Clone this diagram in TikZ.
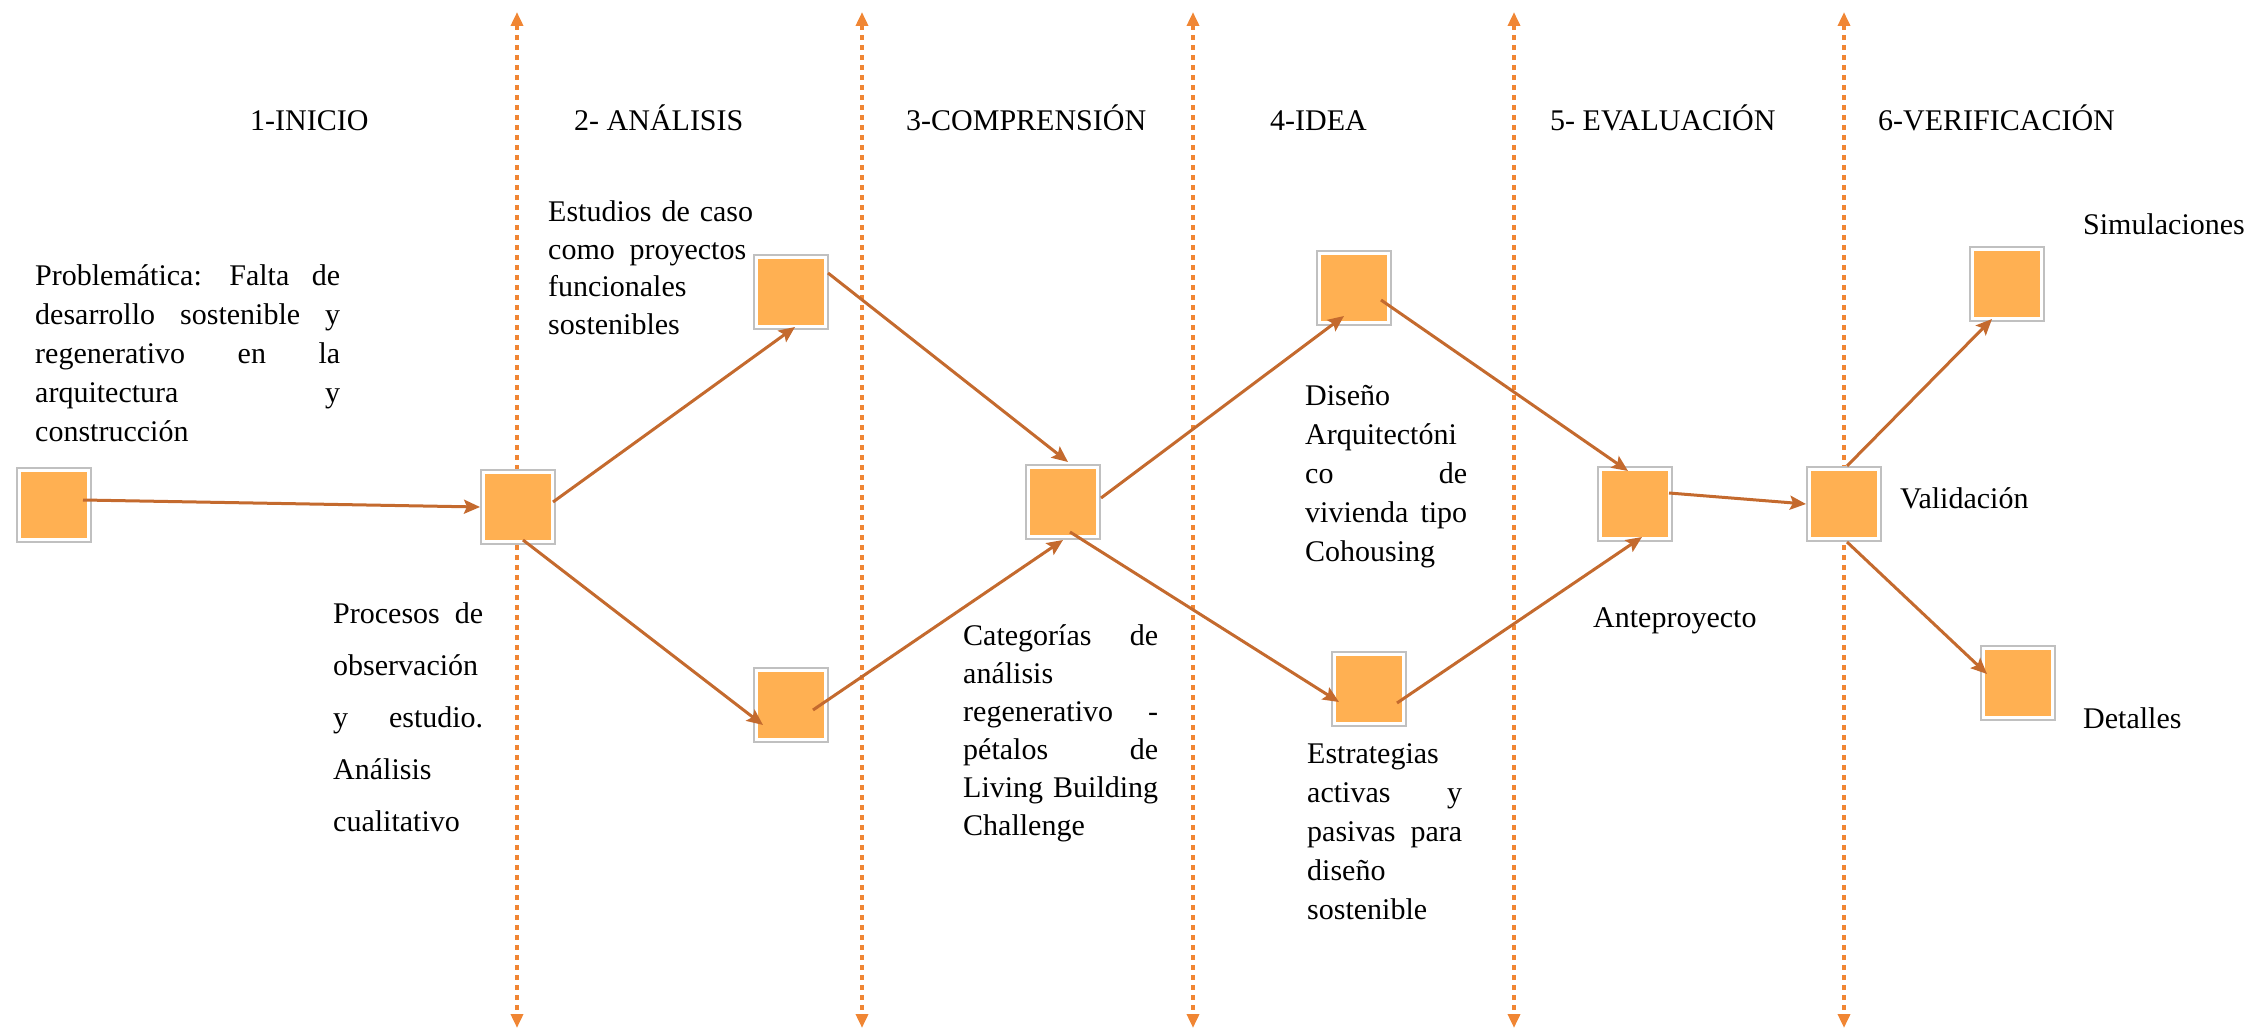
\documentclass[tikz,border=0pt]{standalone}
\usepackage{fontspec}
\setmainfont{Liberation Serif}
\usetikzlibrary{arrows.meta,calc}
\definecolor{boxfill}{RGB}{255,176,82}
\definecolor{framegray}{RGB}{192,192,192}
\definecolor{flowline}{RGB}{196,106,46}
\definecolor{sepline}{RGB}{240,134,52}
% a justified line of a fixed width (words spread by \hfill)
\newcommand\jrow[2]{\leavevmode\hbox to #1{#2}}

\begin{document}
\begin{tikzpicture}[x=1pt,y=-1pt,
  stepbox/.style={minimum width=74pt, minimum height=74pt, inner sep=0pt,
    draw=framegray, line width=2pt, fill=white,
    path picture={\fill[boxfill]
      ($(path picture bounding box.south west)+(4pt,4pt)$) rectangle
      ($(path picture bounding box.north east)+(-4pt,-4pt)$);}},
  flow/.style={draw=flowline, line width=3pt,
    -{Stealth[length=16pt,width=14pt,inset=3pt]}},
  sep/.style={draw=sepline, line width=4.5pt, dash pattern=on 4.5pt off 5.5pt,
    {Triangle[length=14pt,width=12pt]}-{Triangle[length=14pt,width=12pt]}},
  txt/.style={anchor=base west, inner sep=0pt, align=left,
    font=\fontsize{30}{37.5}\selectfont},
  head/.style={anchor=base west, inner sep=0pt,
    font=\fontsize{30}{36}\selectfont}]
\useasboundingbox (0,0) rectangle (2259,1032);

% phase separators
\foreach \i/\x in {1/517,2/862,3/1193,4/1514,5/1844}{
  \coordinate (s\i t) at (\x,12);
  \coordinate (s\i b) at (\x,1028);
  \draw[sep] (s\i t) -- (s\i b);
}

% phase titles
\node[head] (h1) at (250,131) {1-INICIO};
\node[head] (h2) at (574,131) {2- ANÁLISIS};
\node[head] (h3) at (906,131) {3-COMPRENSIÓN};
\node[head] (h4) at (1270,131) {4-IDEA};
\node[head] (h5) at (1550,131) {5- EVALUACIÓN};
\node[head] (h6) at (1878,131) {6-VERIFICACIÓN};

% steps
\node[stepbox] (A) at (54,505) {};
\node[stepbox] (B) at (518,507) {};
\node[stepbox] (C) at (791,292) {};
\node[stepbox] (D) at (791,705) {};
\node[stepbox] (E) at (1063,502) {};
\node[stepbox] (F) at (1354,288) {};
\node[stepbox] (G) at (1369,689) {};
\node[stepbox] (H) at (1635,504) {};
\node[stepbox] (I) at (1844,504) {};
\node[stepbox] (J) at (2007,284) {};
\node[stepbox] (K) at (2018,683) {};

% connectors
\draw[flow] ($(A.east)+(-9pt,5pt)$) -- (B.west);
\draw[flow] ($(B.east)+(-3pt,5pt)$) -- ($(C.south)+(4pt,3pt)$);
\draw[flow] ($(B.south)+(5pt,5pt)$) -- ($(D.center)+(-28pt,-20pt)$);
\draw[flow] ($(C.east)+(-1pt,19pt)$) -- ($(E.north)+(5pt,2pt)$);
\draw[flow] ($(D.center)+(22pt,-5pt)$) -- (E.south);
\draw[flow] ($(E.east)+(0pt,4pt)$) -- ($(F.south)+(-10pt,10pt)$);
\draw[flow] ($(E.south)+(7pt,8pt)$) -- ($(G.west)+(8pt,-13pt)$);
\draw[flow] ($(F.east)+(-11pt,-12pt)$) -- ($(H.north)+(-7pt,-5pt)$);
\draw[flow] ($(G.east)+(-10pt,-14pt)$) -- ($(H.south)+(7pt,5pt)$);
\draw[flow] ($(H.east)+(-4pt,11pt)$) -- (I.west);
\draw[flow] ($(I.north)+(3pt,0pt)$) -- ($(J.south)+(-15pt,3pt)$);
\draw[flow] ($(I.south)+(3pt,0pt)$) -- ($(K.west)+(7pt,9pt)$);

% descriptions
\node[txt, text width=305pt, font=\fontsize{30}{39}\selectfont] (tA) at (35,286) {%
  \jrow{305pt}{Problemática: \hfill Falta \hfill de}\\
  \jrow{305pt}{desarrollo \hfill sostenible \hfill y}\\
  \jrow{305pt}{regenerativo \hfill en \hfill la}\\
  \jrow{305pt}{arquitectura \hfill y}\\
  construcción};
\node[txt, text width=198pt] (tC) at (548,222) {%
  \jrow{198pt}{Estudios \hfill de \hfill caso}\\
  \jrow{198pt}{como \hfill proyectos}\\
  funcionales\\
  sostenibles};
\node[txt, text width=150pt, font=\fontsize{30}{52}\selectfont] (tB) at (333,623) {%
  \jrow{150pt}{Procesos \hfill de}\\
  observación\\
  \jrow{150pt}{y \hfill estudio.}\\
  Análisis\\
  cualitativo};
\node[txt, text width=195pt, font=\fontsize{30}{38}\selectfont] (tE) at (963,645) {%
  \jrow{195pt}{Categorías \hfill de}\\
  análisis\\
  \jrow{195pt}{regenerativo \hfill -}\\
  \jrow{195pt}{pétalos \hfill de}\\
  \jrow{195pt}{Living \hfill Building}\\
  Challenge};
\node[txt, text width=162pt, font=\fontsize{30}{39}\selectfont] (tF) at (1305,405) {%
  Diseño\\
  Arquitectóni\\
  \jrow{162pt}{co \hfill de}\\
  \jrow{162pt}{vivienda \hfill tipo}\\
  Cohousing};
\node[txt, text width=155pt, font=\fontsize{30}{39}\selectfont] (tG) at (1307,763) {%
  Estrategias\\
  \jrow{155pt}{activas \hfill y}\\
  \jrow{155pt}{pasivas \hfill para}\\
  diseño\\
  sostenible};
\node[txt] (tH) at (1593,627) {Anteproyecto};
\node[txt] (tI) at (1900,508) {Validación};
\node[txt] (tJ) at (2083,235) {Simulaciones};
\node[txt] (tK) at (2083,728) {Detalles};
\end{tikzpicture}
\end{document}
